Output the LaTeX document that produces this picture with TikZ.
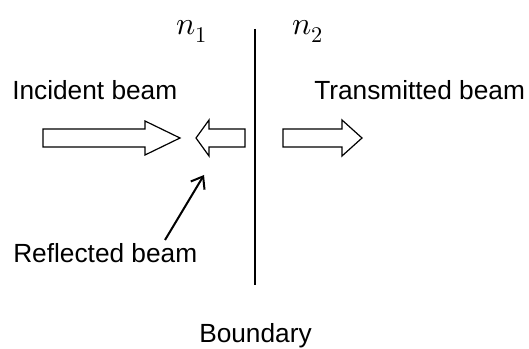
\documentclass[tikz,border=0pt]{standalone}
\usepackage{fontspec}
\usepackage{unicode-math}
\setmainfont{Liberation Sans}
\setmathfont{Latin Modern Math}
\usetikzlibrary{arrows.meta}
\tikzset{
  beam/.style={draw, line width=0.9pt, fill=white, line join=miter},
  lbl/.style={anchor=base west, inner sep=0pt, font=\fontsize{19.7}{24}\selectfont},
  idx/.style={anchor=base west, inner sep=0pt, font=\fontsize{24}{28}\selectfont},
}
\begin{document}
\begin{tikzpicture}[x=0.75pt,y=-0.75pt]
  \useasboundingbox (0,0) rectangle (529,349);
  % boundary
  \draw[line width=1.5pt] (255,29) -- (255,285);
  \node[idx] (nA) at (176,35) {$n_1$};
  \node[idx] (nB) at (292,35) {$n_2$};
  \node[lbl] (inc) at (12,100) {Incident beam};
  \node[lbl] (trans) at (314,100) {Transmitted beam};
  % block arrows
  \draw[beam] (43,129) -- (145,129) -- (145,121) -- (180,138) -- (145,155) -- (145,147) -- (43,147) -- cycle;
  \draw[beam] (245,129) -- (209,129) -- (209,120) -- (196,138) -- (209,156) -- (209,147) -- (245,147) -- cycle;
  \draw[beam] (283,129) -- (342,129) -- (342,120) -- (362,138) -- (342,156) -- (342,147) -- (283,147) -- cycle;
  \node[lbl] (refl) at (13,263) {Reflected beam};
  \coordinate (rtail) at (165,240);
  \coordinate (rtip) at (204,175);
  \draw[line width=1.5pt, -{Straight Barb[length=8pt,width=12pt]}] (rtail) -- (rtip);
  \node[lbl] (bnd) at (199,343) {Boundary};
\end{tikzpicture}
\end{document}
